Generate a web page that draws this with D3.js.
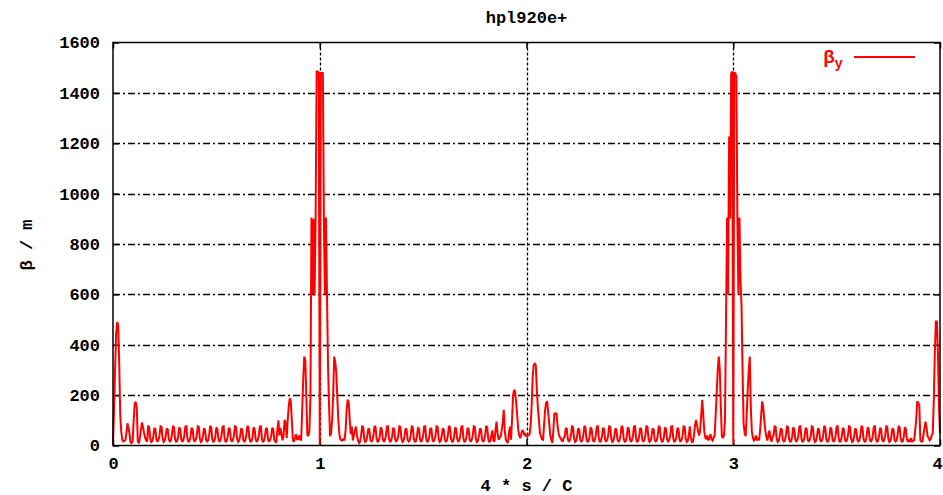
<!DOCTYPE html>
<html><head><meta charset="utf-8">
<script src="https://cdn.jsdelivr.net/npm/d3@7"></script>
<style>html,body{margin:0;padding:0;background:#fff}svg{display:block}</style>
</head><body>
<svg id="chart" width="943" height="495"></svg>
<script>
// ---------------- data ----------------
const chartTitle = "hpl920e+";
const xAxisLabel = "4 * s / C";
const yAxisLabel = "β / m";
const legendMain = "β";
const legendSub = "y";
const xTickValues = [0, 1, 2, 3, 4];
const yTickValues = [0, 200, 400, 600, 800, 1000, 1200, 1400, 1600];
const xGridValues = [1, 2, 3];
const yGridValues = [200, 400, 600, 800, 1000, 1200, 1400];
const sStart = 0, sStep = 0.005;   // sampling grid of the beta function (4*s/C units)

// beta_y samples (m), segment by segment
const betaNear0 = [5,150,300,440,490,480,330,120,55,22,16,18,22,50,88,70,45,12,10,16,100,168,173,150,15,9,30,60,91,75,50,32,21,15];
const betaArcA = [76,74,28,14,18,
  36,70,66,24,15,22, 40,76,74,28,14,18, 38,68,64,22,16,20, 42,78,72,26,15,17, 35,72,65,25,14,21,
  39,75,76,27,13,19, 36,70,66,24,15,22, 40,76,74,28,14,18, 38,68,64,22,16,20, 42,78,72,26,15,17,
  35,72,65,25,14,21, 39,75,76,27,13,19, 36,70,66,24,15,22, 40,76,74,28,14,18, 38,68,64,22,16,20,
  42,78,72,26,15,17, 35,72,65,25,14,21, 39,75,76,27,13,19, 36,70,66,24,15,22,
  36,70,66,24,15];
const betaNear1 = [14,62,100,40,70,45,21,40,102,90,30,100,155,188,175,100,21,15,30,45,25,25,40,25,20,140,261,353,340,200,
  42,37,60,195,905,600,900,595,905,1485,1485,1480,5,1478,1480,1478,900,600,905,600,320,155,37,50,102,200,353,330,290,188,
  100,45,25,20,20,25,20,60,142,182,173,100,45,75,20,40,60,75,40,20,10];
const betaArcB = [15,
  40,76,74,28,14,18, 38,68,64,22,16,20, 42,78,72,26,15,17, 35,72,65,25,14,21, 39,75,76,27,13,19,
  36,70,66,24,15,22, 40,76,74,28,14,18, 38,68,64,22,16,20, 42,78,72,26,15,17, 35,72,65,25,14,21,
  39,75,76,27,13,19, 36,70,66,24,15,22, 40,76,74,28,14,18, 38,68,64,22,16,20, 42,78,72,26,15,17,
  35,72,65,25,14,21, 39,75,76,27,13,19, 36,70,66,24,15,22, 40,76,74,28,14,18, 38,68,64,22,16,20,
  42,78,72,26,15,17,
  40,60,20];
const betaNear2 = [15,60,95,50,23,30,36,60,90,142,60,23,15,10,50,75,23,100,200,221,214,170,120,62,40,29,45,62,55,42,
  45,36,38,42,45,80,160,274,320,325,318,221,150,102,50,36,25,23,80,142,170,175,130,89,40,23,10,60,129,125,
  129,80,50,35,29,20,15];
const betaArcC = [30,
  36,70,66,24,15,22, 40,76,74,28,14,18, 38,68,64,22,16,20, 42,78,72,26,15,17, 35,72,65,25,14,21,
  39,75,76,27,13,19, 36,70,66,24,15,22, 40,76,74,28,14,18, 38,68,64,22,16,20, 42,78,72,26,15,17,
  35,72,65,25,14,21, 39,75,76,27,13,19, 36,70,66,24,15,22, 40,76,74,28,14,18, 38,68,64,22,16,20,
  42,78,72,26,15,17, 35,72,65,25,14,21, 39,75,76,27,13,19, 36,70,66,24,15,22, 40,76,74,28,14,18,
  40,76,30,14];
const betaNear3 = [15,40,80,102,80,56,40,60,120,181,120,56,30,25,40,20,30,45,25,20,30,40,120,208,300,353,300,150,37,30,
  40,100,486,905,600,1227,900,1478,1485,5,1480,1478,1465,900,600,905,657,552,300,89,50,37,120,221,300,353,150,56,30,20,
  25,40,20,30,20,60,120,175,150,102,60,37,20,40,60,30,15];
const betaArcD = [35,
  40,76,74,28,14,18, 38,68,64,22,16,20, 42,78,72,26,15,17, 35,72,65,25,14,21, 39,75,76,27,13,19,
  36,70,66,24,15,22, 40,76,74,28,14,18, 38,68,64,22,16,20, 42,78,72,26,15,17, 35,72,65,25,14,21,
  39,75,76,27,13,19, 36,70,66,24,15,22, 40,76,74,28,14,18, 38,68,64,22,16,20, 42,78,72,26,15,17,
  35,72,65,25,14,21, 39,75,76,27,13,19, 36,70,66,24,15,22, 40,76,74,28,14,18, 38,68,64,22,16,20,
  42,78,72,26,15,17, 35,72,65,25,14,21];
const betaNear4 = [15,30,16,18,20,60,102,175,170,157,21,15,16,42,70,95,70,37,30,21,25,40,49,181,367,492,492,367,152,49];

// ---------------- drawing ----------------
const betaY = [].concat(betaNear0, betaArcA, betaNear1, betaArcB, betaNear2, betaArcC, betaNear3, betaArcD, betaNear4);
const points = betaY.map((b, i) => ({ s: sStart + i * sStep, b }));

const W = 943, H = 495;
const L = 113, R = 940, T = 42.5, B = 445.5;
const font = "'Liberation Mono', 'DejaVu Sans Mono', monospace";

const svg = d3.select("#chart");
svg.append("rect").attr("width", W).attr("height", H).attr("fill", "#fff");

const x = d3.scaleLinear().domain([0, 4]).range([L, R]);
const y = d3.scaleLinear().domain([0, 1600]).range([B, T]);

// grid
const grid = svg.append("g").attr("stroke", "#000").attr("fill", "none");
grid.selectAll("line.h").data(yGridValues).join("line").attr("class", "h")
  .attr("x1", L).attr("x2", R)
  .attr("y1", d => Math.round(y(d)) + 0.5).attr("y2", d => Math.round(y(d)) + 0.5)
  .attr("stroke-width", 1.3).attr("stroke-dasharray", "7,3,2,3");
grid.selectAll("line.v").data(xGridValues).join("line").attr("class", "v")
  .attr("y1", T).attr("y2", B)
  .attr("x1", d => Math.round(x(d)) + 0.5).attr("x2", d => Math.round(x(d)) + 0.5)
  .attr("stroke-width", 1.3).attr("stroke-dasharray", "3,2");

// axes with inward (mirrored) ticks
const fmt = d3.format("d");
const axB = d3.axisBottom(x).tickValues(xTickValues).tickSize(-6).tickPadding(11).tickFormat(fmt);
const axT = d3.axisTop(x).tickValues(xTickValues).tickSize(-6).tickFormat("");
const axL = d3.axisLeft(y).tickValues(yTickValues).tickSize(-6).tickPadding(13).tickFormat(fmt);
const axR = d3.axisRight(y).tickValues(yTickValues).tickSize(-6).tickFormat("");
function style(g) {
  g.select(".domain").remove();
  g.selectAll(".tick line").attr("stroke", "#000").attr("stroke-width", 1.5);
  g.selectAll(".tick text").attr("fill", "#000").style("font-family", font)
    .style("font-size", "17px").style("font-weight", "bold");
}
const gB = svg.append("g").attr("transform", `translate(0,${B})`).call(axB).call(style);
gB.selectAll(".tick text").filter(d => d === 4).attr("dx", -3);
svg.append("g").attr("transform", `translate(0,${T})`).call(axT).call(style);
svg.append("g").attr("transform", `translate(${L},0)`).call(axL).call(style);
svg.append("g").attr("transform", `translate(${R},0)`).call(axR).call(style);

// curve
const line = d3.line().x(d => x(d.s)).y(d => y(d.b));
svg.append("path").datum(points).attr("d", line)
  .attr("fill", "none").attr("stroke", "#ff0000").attr("stroke-width", 2)
  .attr("stroke-linejoin", "miter").attr("stroke-miterlimit", 2);

// frame
svg.append("rect").attr("x", L).attr("y", T).attr("width", R - L).attr("height", B - T)
  .attr("fill", "none").attr("stroke", "#000").attr("stroke-width", 1.5);

// title & labels
svg.append("text").attr("x", (L + R) / 2).attr("y", 23).attr("text-anchor", "middle")
  .style("font-family", font).style("font-size", "17px").style("font-weight", "bold").text(chartTitle);
svg.append("text").attr("x", (L + R) / 2).attr("y", 491).attr("text-anchor", "middle")
  .style("font-family", font).style("font-size", "17px").style("font-weight", "bold").text(xAxisLabel);
svg.append("text").attr("transform", "translate(32,245) rotate(-90)").attr("text-anchor", "middle")
  .style("font-family", font).style("font-size", "17px").style("font-weight", "bold").text(yAxisLabel);

// legend
const lg = svg.append("g");
const lt = lg.append("text").attr("x", 843).attr("y", 63).attr("text-anchor", "end").attr("fill", "#ff0000")
  .style("font-family", font).style("font-size", "19px").style("font-weight", "bold");
lt.append("tspan").text(legendMain);
lt.append("tspan").attr("dy", 5).style("font-size", "14px").text(legendSub);
lg.append("line").attr("x1", 854).attr("x2", 915).attr("y1", 57).attr("y2", 57)
  .attr("stroke", "#ff0000").attr("stroke-width", 2);
</script>
</body></html>
